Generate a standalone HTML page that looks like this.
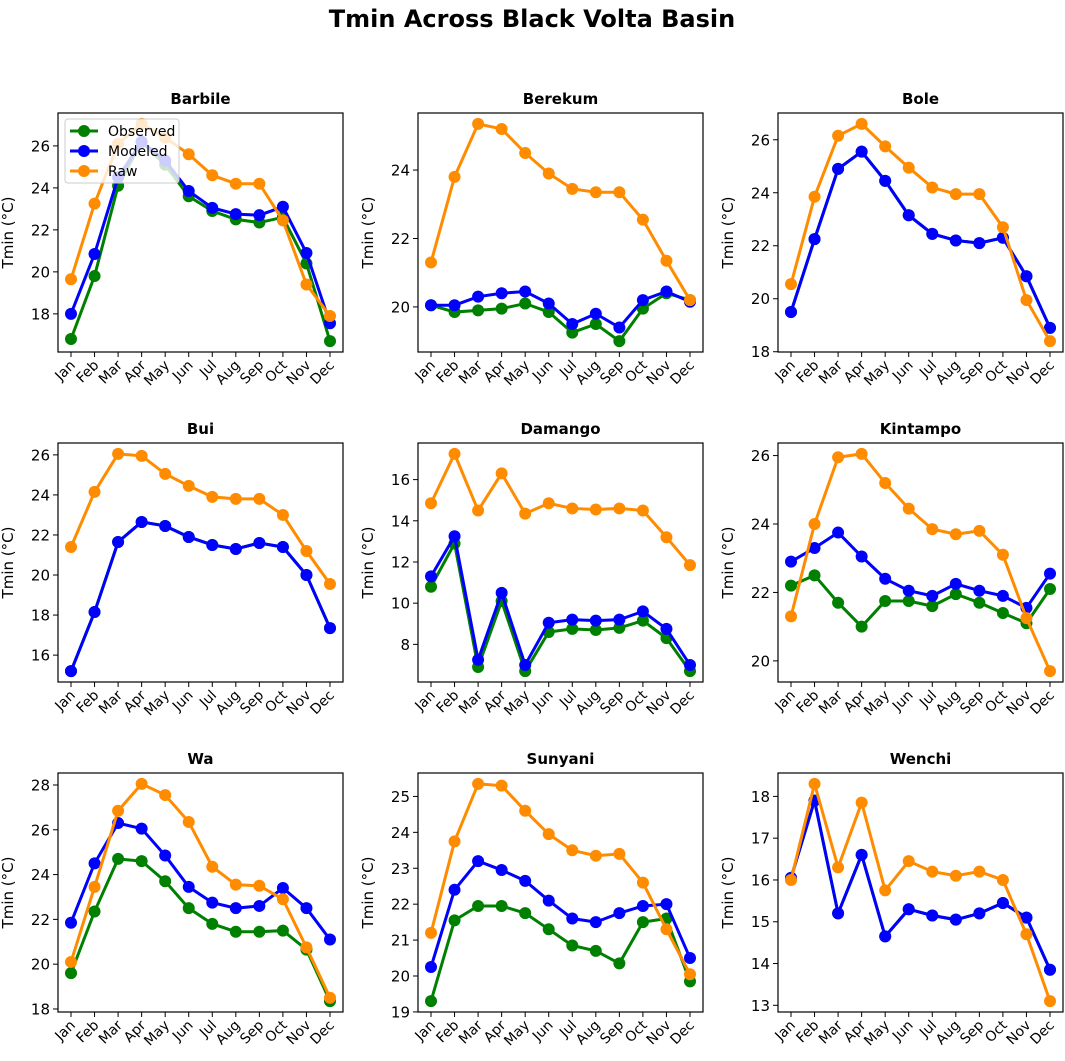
<!DOCTYPE html>
<html><head><meta charset="utf-8"><style>
body{margin:0;background:#fff;}
svg{display:block;font-family:"DejaVu Sans","Liberation Sans",sans-serif;}
</style></head><body>
<svg id="fig" width="1065" height="1061" viewBox="0 0 1065 1061">
<text x="532" y="27" text-anchor="middle" font-size="24" font-weight="bold">Tmin Across Black Volta Basin</text>
</svg>
<script>
const months=["Jan","Feb","Mar","Apr","May","Jun","Jul","Aug","Sep","Oct","Nov","Dec"];
const stations=["Barbile","Berekum","Bole","Bui","Damango","Kintampo","Wa","Sunyani","Wenchi"];
const observed=[
[16.8,19.8,24.1,26.2,25.1,23.6,22.9,22.5,22.35,22.6,20.4,16.7],
[20.05,19.85,19.9,19.95,20.1,19.85,19.25,19.5,19.0,19.95,20.4,20.2],
[19.5,22.25,24.9,25.55,24.45,23.15,22.45,22.2,22.1,22.3,20.85,18.9],
[15.2,18.15,21.65,22.65,22.45,21.9,21.5,21.3,21.6,21.4,20.0,17.35],
[10.8,12.9,6.9,10.1,6.7,8.6,8.75,8.7,8.8,9.15,8.3,6.7],
[22.2,22.5,21.7,21.0,21.75,21.75,21.6,21.95,21.7,21.4,21.1,22.1],
[19.6,22.35,24.7,24.6,23.7,22.5,21.8,21.45,21.45,21.5,20.65,18.35],
[19.3,21.55,21.95,21.95,21.75,21.3,20.85,20.7,20.35,21.5,21.6,19.85],
[16.05,17.9,15.2,16.6,14.65,15.3,15.15,15.05,15.2,15.45,15.1,13.85]];
const modeled=[
[18.0,20.85,24.5,26.2,25.3,23.85,23.05,22.75,22.7,23.1,20.9,17.55],
[20.05,20.05,20.3,20.4,20.45,20.1,19.5,19.8,19.4,20.2,20.45,20.15],
[19.5,22.25,24.9,25.55,24.45,23.15,22.45,22.2,22.1,22.3,20.85,18.9],
[15.2,18.15,21.65,22.65,22.45,21.9,21.5,21.3,21.6,21.4,20.0,17.35],
[11.3,13.25,7.25,10.5,7.0,9.05,9.2,9.15,9.2,9.6,8.75,7.0],
[22.9,23.3,23.75,23.05,22.4,22.05,21.9,22.25,22.05,21.9,21.55,22.55],
[21.85,24.5,26.3,26.05,24.85,23.45,22.75,22.5,22.6,23.4,22.5,21.1],
[20.25,22.4,23.2,22.95,22.65,22.1,21.6,21.5,21.75,21.95,22.0,20.5],
[16.05,17.9,15.2,16.6,14.65,15.3,15.15,15.05,15.2,15.45,15.1,13.85]];
const raw=[
[19.65,23.25,26.1,27.05,26.4,25.6,24.6,24.2,24.2,22.45,19.4,17.9],
[21.3,23.8,25.35,25.2,24.5,23.9,23.45,23.35,23.35,22.55,21.35,20.2],
[20.55,23.85,26.15,26.6,25.75,24.95,24.2,23.95,23.95,22.7,19.95,18.4],
[21.4,24.15,26.05,25.95,25.05,24.45,23.9,23.8,23.8,23.0,21.2,19.55],
[14.85,17.25,14.5,16.3,14.35,14.85,14.6,14.55,14.6,14.5,13.2,11.85],
[21.3,24.0,25.95,26.05,25.2,24.45,23.85,23.7,23.8,23.1,21.25,19.7],
[20.1,23.45,26.85,28.05,27.55,26.35,24.35,23.55,23.5,22.9,20.75,18.5],
[21.2,23.75,25.35,25.3,24.6,23.95,23.5,23.35,23.4,22.6,21.3,20.05],
[16.0,18.3,16.3,17.85,15.75,16.45,16.2,16.1,16.2,16.0,14.7,13.1]];
const yTicks=[[18,20,22,24,26],[20,22,24],[18,20,22,24,26],[16,18,20,22,24,26],[8,10,12,14,16],[20,22,24,26],[18,20,22,24,26,28],[19,20,21,22,23,24,25],[13,14,15,16,17,18]];
const seriesNames=["Observed","Modeled","Raw"];
const colors=["#008000","#0000ff","#ff8c00"];

const NS="http://www.w3.org/2000/svg";
const svg=document.getElementById('fig');
function mk(tag,attrs,parent){const e=document.createElementNS(NS,tag);for(const k in attrs)e.setAttribute(k,attrs[k]);(parent||svg).appendChild(e);return e;}
const W=285,H=239;
stations.forEach((st,i)=>{
  const L=58+(i%3)*360, T=113+Math.floor(i/3)*330;
  const g=mk('g',{});
  
  
  const all=observed[i].concat(modeled[i],raw[i]);
  const mn=Math.min(...all),mx=Math.max(...all),pad=(mx-mn)*0.05;
  const y0=mn-pad,y1=mx+pad;
  const x=k=>L+13+k*(W-26)/11;
  const y=v=>T+H-(v-y0)/(y1-y0)*H;
  const t=mk('text',{x:L+W/2,y:T-9,'text-anchor':'middle','font-size':15,'font-weight':'bold'},g);
  t.textContent=st;
  
  
  const yl=mk('text',{x:0,y:0,'text-anchor':'middle','font-size':15,transform:`translate(${L-45},${T+H/2}) rotate(-90)`},g);
  yl.textContent="Tmin (°C)";
  
  
  yTicks[i].forEach(v=>{
    const yy=y(v);
    mk('line',{x1:L-5,x2:L,y1:yy,y2:yy,stroke:'#000','stroke-width':1},g);
    const tt=mk('text',{x:L-8,y:yy+5.5,'text-anchor':'end','font-size':15},g);
    tt.textContent=v;
    
    
  });
  months.forEach((m,k)=>{
    const xx=x(k);
    mk('line',{x1:xx,x2:xx,y1:T+H,y2:T+H+5,stroke:'#000','stroke-width':1},g);
    const tt=mk('text',{x:0,y:0,'text-anchor':'end','font-size':14,transform:`translate(${xx+5},${T+H+14}) rotate(-45)`},g);
    tt.textContent=m;
    
    
  });
  [observed[i],modeled[i],raw[i]].forEach((s,si)=>{
    const sg=mk('g',{},g);
    
    
    mk('polyline',{points:s.map((v,k)=>x(k)+','+y(v)).join(' '),fill:'none',stroke:colors[si],'stroke-width':3},sg);
    s.forEach((v,k)=>{
      const c=mk('circle',{cx:x(k),cy:y(v),r:6,fill:colors[si]},sg);
      
      
    });
  });
  const fr=mk('rect',{x:L,y:T,width:W,height:H,fill:'none',stroke:'#000','stroke-width':1.2},g);
  
  
  if(i===0){
    const lg=mk('g',{},g);
    
    
    mk('rect',{x:L+7,y:T+6,width:114,height:64,rx:3,fill:'#fff','fill-opacity':0.8,stroke:'#ccc'},lg);
    seriesNames.forEach((n,si)=>{
      const yy=T+18+si*20;
      const e=mk('g',{},lg);
      
      
      mk('line',{x1:L+12,x2:L+40,y1:yy,y2:yy,stroke:colors[si],'stroke-width':3},e);
      mk('circle',{cx:L+26,cy:yy,r:6,fill:colors[si]},e);
      const tt=mk('text',{x:L+50,y:yy+5,'font-size':14},e);
      tt.textContent=n;
    });
  }
});
</script>
</body></html>
